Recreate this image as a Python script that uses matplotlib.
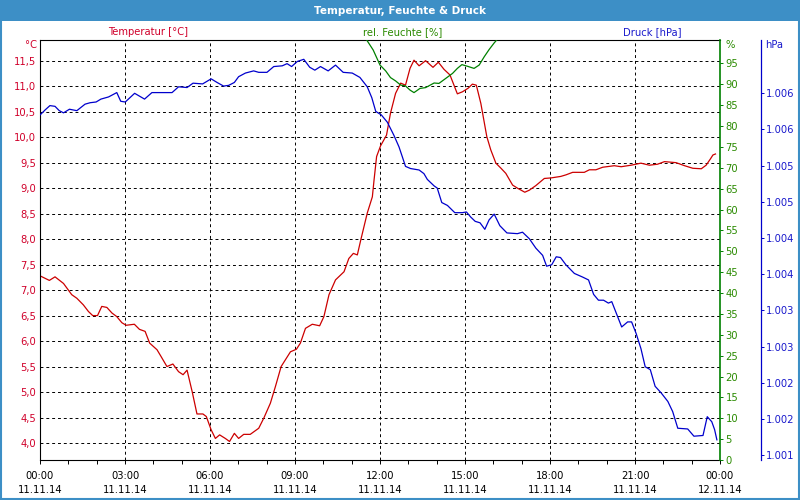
import math
import matplotlib
matplotlib.use("Agg")
import matplotlib.pyplot as plt
from matplotlib.patches import Rectangle
from matplotlib.ticker import FuncFormatter, MultipleLocator

plt.rcParams["font.family"] = ["DejaVu Sans"]

# === data (hours since 11.11.14 00:00) ===
temp_h = [0.00, 0.33, 0.53, 0.83, 1.12, 1.30, 1.53, 1.71, 1.86, 2.03, 2.18, 2.36, 2.54, 2.71,
          2.89, 3.04, 3.33, 3.51, 3.71, 3.87, 4.13, 4.27, 4.48, 4.69, 4.89, 5.05, 5.19, 5.37,
          5.54, 5.75, 5.87, 6.04, 6.19, 6.34, 6.54, 6.69, 6.86, 7.01, 7.19, 7.42, 7.72, 7.90,
          8.13, 8.31, 8.51, 8.84, 9.05, 9.19, 9.37, 9.61, 9.87, 10.02, 10.20, 10.43, 10.73,
          10.90, 11.06, 11.20, 11.32, 11.55, 11.73, 11.79, 11.88, 12.02, 12.23, 12.37, 12.55,
          12.73, 12.90, 13.06, 13.20, 13.38, 13.61, 13.87, 14.06, 14.26, 14.47, 14.73, 14.91,
          15.11, 15.26, 15.40, 15.56, 15.77, 15.91, 16.09, 16.27, 16.44, 16.68, 16.85, 17.11,
          17.27, 17.50, 17.80, 18.03, 18.38, 18.56, 18.80, 19.21, 19.39, 19.62, 19.86, 20.27,
          20.51, 20.86, 21.21, 21.51, 21.80, 22.04, 22.45, 22.75, 23.04, 23.34, 23.51, 23.67,
          23.75, 23.84]
temp_c = [7.28, 7.19, 7.26, 7.13, 6.91, 6.84, 6.71, 6.58, 6.50, 6.50, 6.68, 6.66, 6.55, 6.48,
          6.36, 6.31, 6.33, 6.23, 6.19, 5.96, 5.83, 5.70, 5.50, 5.55, 5.40, 5.34, 5.43, 5.01,
          4.57, 4.57, 4.52, 4.26, 4.09, 4.16, 4.09, 4.03, 4.19, 4.09, 4.17, 4.17, 4.29, 4.49,
          4.78, 5.11, 5.50, 5.79, 5.84, 5.96, 6.25, 6.33, 6.30, 6.48, 6.91, 7.20, 7.36,
          7.62, 7.72, 7.69, 7.98, 8.51, 8.83, 9.16, 9.62, 9.83, 10.04, 10.47, 10.86,
          11.06, 11.02, 11.35, 11.51, 11.40, 11.50, 11.37, 11.47, 11.33, 11.22, 10.85, 10.89,
          10.96, 11.04, 11.02, 10.66, 10.01, 9.75, 9.49, 9.39, 9.29, 9.06, 9.00, 8.92,
          8.96, 9.05, 9.19, 9.20, 9.23, 9.26, 9.31, 9.31, 9.36, 9.36, 9.41, 9.44,
          9.42, 9.45, 9.49, 9.45, 9.47, 9.52, 9.50, 9.44, 9.39, 9.38, 9.45, 9.58,
          9.65, 9.67]

hum_h = [11.35, 11.53, 11.76, 12.00, 12.20, 12.37, 12.55, 12.73, 12.90, 13.06, 13.20, 13.41,
         13.61, 13.91, 14.08, 14.32, 14.56, 14.73, 14.89, 15.09, 15.32, 15.50, 15.68, 15.85,
         16.03, 16.12, 16.30]
hum_pct = [102.5, 100.6, 98.2, 94.6, 93.2, 91.6, 90.8, 89.8, 89.6, 88.6, 88.0, 89.0,
           89.2, 90.3, 90.2, 91.4, 92.6, 93.8, 94.7, 94.3, 93.8, 94.6, 96.6, 98.3,
           99.9, 100.6, 102.5]

press_h = [0.00, 0.18, 0.35, 0.53, 0.68, 0.83, 1.04, 1.30, 1.59, 1.77, 1.98, 2.15, 2.42, 2.71,
           2.85, 3.01, 3.34, 3.69, 3.95, 4.48, 4.66, 4.89, 5.19, 5.40, 5.74, 6.04, 6.25, 6.48,
           6.66, 6.86, 7.01, 7.25, 7.54, 7.72, 8.01, 8.25, 8.55, 8.72, 8.88, 9.08, 9.31, 9.52,
           9.70, 9.90, 10.17, 10.43, 10.70, 11.02, 11.29, 11.55, 11.71, 11.85, 12.05, 12.26,
           12.49, 12.67, 12.79, 12.90, 13.08, 13.38, 13.55, 13.67, 13.91, 14.02, 14.18, 14.38,
           14.64, 14.91, 15.05, 15.20, 15.36, 15.53, 15.70, 15.85, 16.03, 16.23, 16.48, 16.85,
           17.03, 17.27, 17.50, 17.74, 17.88, 18.06, 18.22, 18.37, 18.56, 18.86, 19.15, 19.36,
           19.54, 19.71, 19.89, 20.06, 20.18, 20.36, 20.53, 20.74, 20.88, 21.04, 21.21, 21.36,
           21.54, 21.71, 21.92, 22.16, 22.33, 22.51, 22.86, 23.08, 23.40, 23.55, 23.71, 23.81,
           23.89]
press_hpa = [1005.70, 1005.77, 1005.83, 1005.82, 1005.76, 1005.73, 1005.78, 1005.76, 1005.85,
             1005.87, 1005.88, 1005.92, 1005.95, 1006.01, 1005.89, 1005.88, 1006.00, 1005.92,
             1006.01, 1006.01, 1006.01, 1006.09, 1006.08, 1006.14, 1006.13, 1006.20, 1006.15,
             1006.10, 1006.11, 1006.15, 1006.23, 1006.28, 1006.31, 1006.29, 1006.29, 1006.37,
             1006.38, 1006.41, 1006.37, 1006.44, 1006.47, 1006.36, 1006.32, 1006.37, 1006.31,
             1006.39, 1006.29, 1006.28, 1006.22, 1006.09, 1005.94, 1005.75, 1005.70, 1005.60,
             1005.42, 1005.26, 1005.12, 1004.99, 1004.96, 1004.94, 1004.89, 1004.81, 1004.72,
             1004.69, 1004.49, 1004.45, 1004.35, 1004.35, 1004.36, 1004.29, 1004.23, 1004.21,
             1004.12, 1004.25, 1004.33, 1004.17, 1004.07, 1004.06, 1004.08, 1003.99, 1003.86,
             1003.76, 1003.61, 1003.63, 1003.74, 1003.73, 1003.63, 1003.51, 1003.46, 1003.42,
             1003.22, 1003.14, 1003.14, 1003.10, 1003.12, 1002.94, 1002.77, 1002.84, 1002.84,
             1002.68, 1002.47, 1002.22, 1002.18, 1001.95, 1001.86, 1001.74, 1001.60, 1001.37,
             1001.36, 1001.26, 1001.27, 1001.53, 1001.46, 1001.35, 1001.21]

x_ticks = [0, 3, 6, 9, 12, 15, 18, 21, 24]
x_labels = ["00:00\n11.11.14", "03:00\n11.11.14", "06:00\n11.11.14", "09:00\n11.11.14",
            "12:00\n11.11.14", "15:00\n11.11.14", "18:00\n11.11.14", "21:00\n11.11.14",
            "00:00\n12.11.14"]

RED = "#cc0000"
RED_TXT = "#d0002a"
GREEN = "#008000"
GREEN_TXT = "#2a8a00"
BLUE = "#0000cc"
BLUE_TXT = "#1a1acc"
BAR = "#3d8fc6"
FS = 7.2

fig = plt.figure(figsize=(8, 5), dpi=100)
fig.patch.set_facecolor("white")

# title bar and frame
fig.patches.append(Rectangle((0, 1 - 21 / 500), 1, 21 / 500, transform=fig.transFigure,
                             facecolor=BAR, edgecolor="none", zorder=0))
fig.patches.append(Rectangle((0.001, 0.002), 0.998, 0.996, transform=fig.transFigure,
                             facecolor="none", edgecolor=BAR, linewidth=1.5, zorder=0))
fig.text(0.5, 1 - 10.5 / 500, "Temperatur, Feuchte & Druck", color="white",
         fontsize=7.5, fontweight="bold", ha="center", va="center")

ax = fig.add_axes([0.05, 0.08, 0.85, 0.84])
ax2 = ax.twinx()
ax3 = ax.twinx()

dash = (0, (3, 3))

# temperature (left)
ax.plot(temp_h, temp_c, color=RED, linewidth=0.9)
ax.set_xlim(0, 24)
ax.set_ylim(3.667, 11.906)
ax.set_yticks([4.0 + 0.5 * i for i in range(16)])
ax.yaxis.set_major_formatter(FuncFormatter(lambda v, p: f"{v:.1f}".replace(".", ",")))
ax.tick_params(axis="y", length=0, pad=3, labelsize=FS, labelcolor=RED_TXT)
ax.set_xticks(x_ticks)
ax.set_xticklabels(x_labels, linespacing=1.5)
ax.xaxis.set_minor_locator(MultipleLocator(1))
ax.tick_params(axis="x", which="both", direction="out", length=3, width=0.7,
               pad=5, labelsize=FS)
ax.grid(True, color="black", linestyle=dash, linewidth=0.7)
for s in ["left", "bottom", "top"]:
    ax.spines[s].set_linewidth(0.8)
ax.spines["right"].set_visible(False)

# humidity (right, green)
ax2.plot(hum_h, hum_pct, color=GREEN, linewidth=0.9)
ax2.set_ylim(0, 100.6)
ax2.set_yticks(range(0, 100, 5))
ax2.tick_params(axis="y", direction="out", length=2.5, width=0.7, pad=1.5,
                labelsize=FS, color=GREEN, labelcolor=GREEN_TXT)
for s in ["left", "bottom", "top"]:
    ax2.spines[s].set_visible(False)
ax2.spines["right"].set_color(GREEN)
ax2.spines["right"].set_linewidth(1.2)

# pressure (outer right, blue)
ax3.plot(press_h, press_hpa, color=BLUE, linewidth=0.9)
ax3.set_ylim(1000.931, 1006.737)
ax3.set_yticks([1001.0 + 0.5 * i for i in range(11)])
ax3.yaxis.set_major_formatter(
    FuncFormatter(lambda v, p: f"{int(math.floor(v + 0.5)):,}".replace(",", ".")))
ax3.spines["right"].set_position(("axes", 1.0603))
for s in ["left", "bottom", "top"]:
    ax3.spines[s].set_visible(False)
ax3.spines["right"].set_color(BLUE)
ax3.spines["right"].set_linewidth(0.9)
ax3.tick_params(axis="y", direction="out", length=2.5, width=0.7, pad=1,
                labelsize=FS, color=BLUE, labelcolor=BLUE_TXT)

# series names and units above the plot
fig.text(148 / 800, 1 - 32 / 500, "Temperatur [°C]", color=RED_TXT, fontsize=FS,
         ha="center", va="center")
fig.text(403 / 800, 1 - 32 / 500, "rel. Feuchte [%]", color=GREEN_TXT, fontsize=FS,
         ha="center", va="center")
fig.text(652 / 800, 1 - 32 / 500, "Druck [hPa]", color=BLUE_TXT, fontsize=FS,
         ha="center", va="center")
fig.text(37 / 800, 1 - 45 / 500, "°C", color=RED_TXT, fontsize=FS, ha="right", va="center")
fig.text(725 / 800, 1 - 45 / 500, "%", color=GREEN_TXT, fontsize=FS, ha="left", va="center")
fig.text(765 / 800, 1 - 45 / 500, "hPa", color=BLUE_TXT, fontsize=FS, ha="left", va="center")

fig.savefig("out.png", dpi=100)
